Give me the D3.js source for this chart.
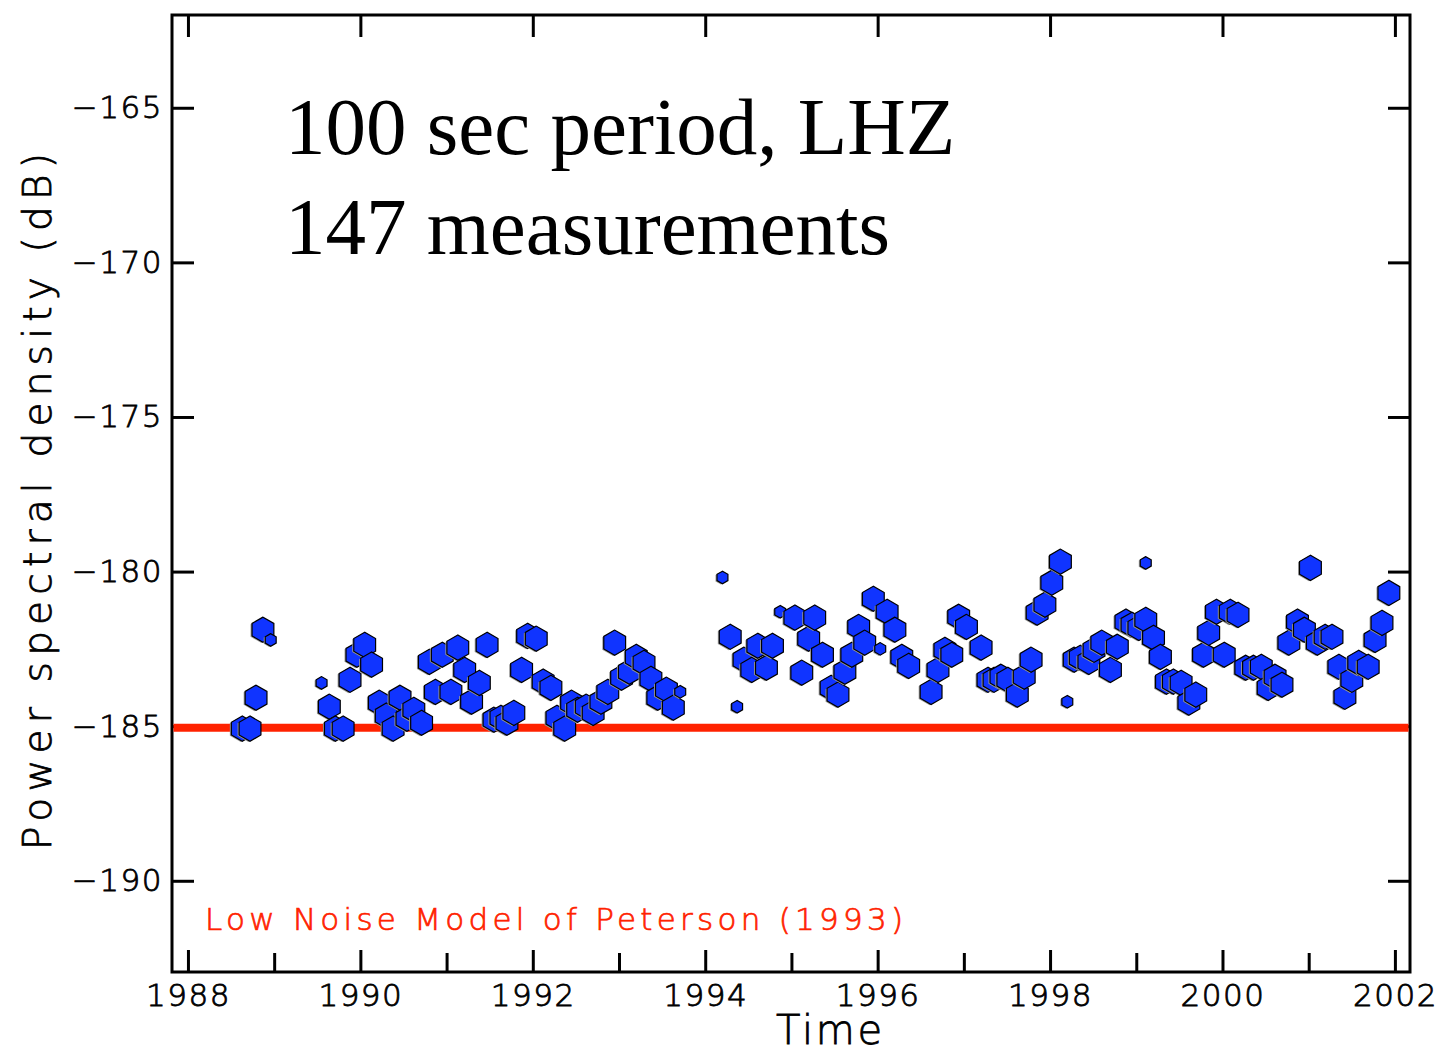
<!DOCTYPE html>
<html>
<head>
<meta charset="utf-8">
<script src="https://cdn.jsdelivr.net/npm/d3@7"></script>
<style>
  html, body { margin: 0; padding: 0; background: #fff; }
  svg { display: block; }
  .lbl { font-family: "DejaVu Sans", sans-serif; font-weight: 300; }
</style>
</head>
<body>
<svg id="chart" width="1442" height="1054"></svg>
<script>
// ---- data ----
const years = [
  1988.63,1988.72,1988.79,1988.87,1988.96,1989.55,1989.64,1989.71,1989.80,1989.88,
  1989.96,1990.05,1990.13,1990.22,1990.30,1990.38,1990.46,1990.54,1990.62,1990.71,
  1990.80,1990.87,1990.95,1991.05,1991.13,1991.21,1991.29,1991.38,1991.47,1991.55,
  1991.63,1991.70,1991.78,1991.87,1991.94,1992.04,1992.12,1992.21,1992.28,1992.37,
  1992.45,1992.52,1992.62,1992.70,1992.79,1992.87,1992.95,1993.03,1993.12,1993.20,
  1993.29,1993.37,1993.45,1993.55,1993.63,1993.71,
  1994.20,1994.29,1994.37,1994.45,1994.54,1994.61,1994.71,1994.78,1994.87,1995.04,
  1995.12,1995.20,1995.27,1995.36,1995.46,1995.54,1995.62,1995.70,1995.78,1995.85,
  1995.95,1996.03,1996.11,1996.20,1996.28,1996.36,1996.62,1996.70,1996.78,1996.86,
  1996.94,1997.03,1997.20,1997.28,1997.35,1997.43,1997.51,1997.62,1997.70,1997.78,
  1997.85,1997.94,1998.02,1998.12,1998.20,1998.28,1998.35,1998.45,1998.51,1998.60,
  1998.70,1998.78,1998.88,1998.95,1999.03,1999.11,1999.11,1999.20,1999.28,1999.35,
  1999.43,1999.52,1999.61,1999.69,1999.78,1999.84,1999.93,2000.02,2000.09,2000.18,
  2000.27,2000.36,2000.45,2000.53,2000.61,2000.69,2000.77,2000.87,2000.95,2001.02,
  2001.10,2001.19,2001.27,2001.35,2001.42,2001.50,2001.58,2001.69,2001.77,2001.85,
  2001.93
];
const psd = [
  -185.08,-185.08,-184.08,-181.88,-182.21,-183.60,-184.37,-185.08,-185.08,-183.50,
  -182.69,-182.37,-183.01,-184.24,-184.66,-185.08,-184.08,-184.76,-184.47,-184.89,
  -182.92,-183.89,-182.69,-183.89,-182.46,-183.18,-184.21,-183.60,-182.37,-184.79,
  -184.73,-184.89,-184.57,-183.18,-182.08,-182.17,-183.56,-183.76,-184.73,-185.08,
  -184.24,-184.47,-184.37,-184.57,-184.21,-183.89,-182.30,-183.43,-183.24,-182.76,
  -182.95,-183.47,-184.08,-183.82,-184.40,-183.89,
  -180.19,-182.11,-184.37,-182.85,-183.18,-182.40,-183.11,-182.40,-181.30,-181.49,
  -183.27,-182.17,-181.49,-182.69,-183.76,-183.98,-183.24,-182.69,-181.79,-182.30,
  -180.88,-182.50,-181.30,-181.88,-182.76,-183.05,-183.89,-183.18,-182.53,-182.69,
  -181.46,-181.79,-182.46,-183.50,-183.50,-183.40,-183.50,-183.98,-183.40,-182.85,
  -181.33,-181.07,-180.36,-179.68,-184.21,-182.85,-182.79,-182.92,-182.53,-182.30,
  -183.18,-182.43,-181.62,-181.72,-181.82,-179.72,-181.56,-182.14,-182.76,-183.56,
  -183.56,-183.60,-184.24,-183.98,-182.69,-181.98,-181.30,-182.69,-181.30,-181.40,
  -183.11,-183.11,-183.08,-183.76,-183.40,-183.66,-182.30,-181.62,-181.88,-179.88,
  -182.30,-182.11,-182.11,-183.08,-184.05,-183.50,-182.95,-183.08,-182.21,-181.66,
  -180.69
];
// measurement weight: 1 = full, 0.5 = partial
const weight = [
  1,1,1,1,0.5,0.5,1,1,1,1,
  1,1,1,1,1,1,1,1,1,1,
  1,1,1,1,1,1,1,1,1,1,
  1,1,1,1,1,1,1,1,1,1,
  1,1,1,1,1,1,1,1,1,1,
  1,1,1,1,1,0.5,
  0.5,1,0.5,1,1,1,1,1,0.5,1,
  1,1,1,1,1,1,1,1,1,1,
  1,0.5,1,1,1,1,1,1,1,1,
  1,1,1,1,1,1,1,1,1,1,
  1,1,1,1,0.5,1,1,1,1,1,
  1,1,1,1,1,0.5,1,1,1,1,
  1,1,1,1,1,1,1,1,1,1,
  1,1,1,1,1,1,1,1,1,1,
  1,1,1,1,1,1,1,1,1,1,
  1
];
const nlnmLevel = -185.05;            // Peterson low noise model at 100 s
const xMajorTicks = [1988,1990,1992,1994,1996,1998,2000,2002];
const xMinorTicks = [1989,1991,1993,1995,1997,1999,2001];
const yTicks = [-165,-170,-175,-180,-185,-190];
const titleLines = ["100 sec period, LHZ", "147 measurements"];
const legendText = "Low Noise Model of Peterson (1993)";

// ---- layout ----
const svg = d3.select("#chart");
const L = 172, R = 1410, T = 15, B = 972;
const x = d3.scaleLinear().domain([1987.815, 2002.175]).range([L, R]);
const y = d3.scaleLinear().domain([-162.0, -192.95]).range([T, B]);
const rScale = d3.scaleLinear().domain([0, 1]).range([0, 12.6]);

const tickFont = 31;

// bottom axis (major ticks, inward)
const gx = svg.append("g").attr("transform", `translate(0,${B})`)
  .call(d3.axisBottom(x).tickValues(xMajorTicks).tickFormat(d3.format("d"))
    .tickSizeInner(-22).tickSizeOuter(0).tickPadding(12));
// bottom minor ticks
const gxm = svg.append("g").attr("transform", `translate(0,${B})`)
  .call(d3.axisBottom(x).tickValues(xMinorTicks).tickFormat("")
    .tickSizeInner(-19).tickSizeOuter(0));
// top axis ticks
const gxt = svg.append("g").attr("transform", `translate(0,${T})`)
  .call(d3.axisTop(x).tickValues(xMajorTicks).tickFormat("")
    .tickSizeInner(-22).tickSizeOuter(0));
// left axis
const gy = svg.append("g").attr("transform", `translate(${L},0)`)
  .call(d3.axisLeft(y).tickValues(yTicks).tickFormat(d => "\u2212" + Math.abs(d))
    .tickSizeInner(-22).tickSizeOuter(0).tickPadding(9));
// right axis
const gyr = svg.append("g").attr("transform", `translate(${R},0)`)
  .call(d3.axisRight(y).tickValues(yTicks).tickFormat("")
    .tickSizeInner(-22).tickSizeOuter(0));

[gx, gxm, gxt, gy, gyr].forEach(g => {
  g.select(".domain").remove();
  g.selectAll(".tick line").attr("stroke", "#000").attr("stroke-width", 3);
  g.selectAll(".tick text")
    .attr("class", "lbl")
    .attr("fill", "#000")
    .attr("stroke", "#000").attr("stroke-width", 0.8)
    .style("font-size", tickFont + "px")
    .style("letter-spacing", "1.5px");
});

// frame
svg.append("rect").attr("x", L).attr("y", T).attr("width", R - L).attr("height", B - T)
  .attr("fill", "none").attr("stroke", "#000").attr("stroke-width", 3);

// NLNM reference line
svg.append("line")
  .attr("x1", L + 1.5).attr("x2", R - 1.5)
  .attr("y1", y(nlnmLevel)).attr("y2", y(nlnmLevel))
  .attr("stroke", "#ff2200").attr("stroke-width", 8);

// hexagon markers
function hexPath(r) {
  const pts = d3.range(6).map(i => {
    const a = Math.PI / 2 + i * Math.PI / 3;
    return [r * Math.cos(a), -r * Math.sin(a)];
  });
  return "M" + pts.map(p => p[0].toFixed(2) + "," + p[1].toFixed(2)).join("L") + "Z";
}
const pts = years.map((t, i) => ({ t, v: psd[i], w: weight[i] }));
const gm = svg.append("g");
const mk = gm.selectAll("g.m").data(pts).enter().append("g").attr("class", "m")
  .attr("transform", d => `translate(${x(d.t)},${y(d.v)})`);
mk.append("path")
  .attr("d", d => hexPath(rScale(d.w)))
  .attr("transform", "translate(-1.5,0.8)")
  .attr("fill", "#9a9a9a");
mk.append("path")
  .attr("d", d => hexPath(rScale(d.w)))
  .attr("fill", "#1034ff")
  .attr("stroke", "#000")
  .attr("stroke-width", 1.2)
  .attr("stroke-linejoin", "miter");

// big annotation
svg.append("text").attr("x", 285).attr("y", 154)
  .style("font-family", "'Liberation Serif', 'Times New Roman', serif")
  .style("font-size", "81px").attr("fill", "#000").text(titleLines[0]);
svg.append("text").attr("x", 285).attr("y", 254)
  .style("font-family", "'Liberation Serif', 'Times New Roman', serif")
  .style("font-size", "81px").attr("fill", "#000").text(titleLines[1]);

// legend
svg.append("text").attr("class", "lbl").attr("x", 205).attr("y", 930)
  .style("font-size", "31px").attr("fill", "#ff2200")
  .attr("stroke", "#ff2200").attr("stroke-width", 0.7)
  .attr("textLength", 698).attr("lengthAdjust", "spacing")
  .text(legendText);

// axis titles
svg.append("text").attr("class", "lbl").attr("x", 776).attr("y", 1044)
  .style("font-size", "40px").attr("fill", "#000")
  .attr("stroke", "#000").attr("stroke-width", 0.8)
  .attr("textLength", 106).attr("lengthAdjust", "spacing")
  .text("Time");
svg.append("text").attr("class", "lbl")
  .attr("transform", "translate(51,850) rotate(-90)")
  .style("font-size", "39px").attr("fill", "#000")
  .attr("stroke", "#000").attr("stroke-width", 0.8)
  .attr("textLength", 697).attr("lengthAdjust", "spacing")
  .text("Power spectral density (dB)");
</script>
</body>
</html>
